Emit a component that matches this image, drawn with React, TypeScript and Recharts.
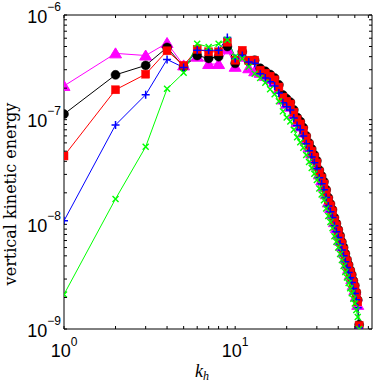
import React from 'react';
import { LineChart, Line, XAxis, YAxis } from 'recharts';

const W = 374;
const H = 382;
const PL = 64;
const PR = 372;
const PT = 15;
const PB = 329;
// axes occupy 1px each, so margins are reduced by one
const M = { top: PT - 1, right: W - PR - 1, bottom: H - PB - 1, left: PL - 1 };

const kh = [1, 2, 3, 4, 5, 6, 7, 8, 9, 10, 11, 12, 13, 14, 15, 16, 17, 18, 19, 20, 21, 22, 23, 24, 25, 26, 27, 28, 29, 30, 31, 32, 33, 34, 35, 36, 37, 38, 39, 40, 41, 42, 43, 44, 45, 46, 47, 48, 49, 50, 51, 52, 53];

const magenta = [2.1e-7, 4.3e-7, 4.1e-7, 5.4e-7, 3.3e-7, 4.0e-7, 3.4e-7, 3.4e-7, 4.7e-7, 3.2e-7, 4.0e-7, 3.1e-7, 2.9e-7,
  2.8e-7, 2.62e-7, 2.45e-7, 2.28e-7, 1.95e-7, 1.56e-7, 1.42e-7, 1.33e-7, 1.12e-7, 9.5e-8, 8.6e-8, 7.55e-8, 6.4e-8, 5.45e-8, 4.75e-8, 4.2e-8, 3.66e-8,
  3.0e-8, 2.63e-8, 2.3e-8, 1.94e-8, 1.62e-8, 1.43e-8, 1.25e-8, 1.05e-8, 9.2e-9, 8.1e-9, 7.0e-9, 6.2e-9, 5.4e-9, 4.75e-9, 4.2e-9, 3.75e-9, 3.3e-9, 3.0e-9, 2.63e-9, 2.35e-9, 2.05e-9, 1.7e-9, 1.0e-9];

const black = [1.13e-7, 2.68e-7, 3.3e-7, 4.9e-7, 3.2e-7, 4.1e-7, 3.85e-7, 4.0e-7, 5.0e-7, 3.45e-7, 4.45e-7, 3.6e-7, 3.7e-7,
  3.1e-7, 2.9e-7, 2.7e-7, 2.5e-7, 2.15e-7, 1.72e-7, 1.58e-7, 1.47e-7, 1.24e-7, 1.05e-7, 9.6e-8, 8.4e-8, 7.0e-8, 6.0e-8, 5.25e-8, 4.6e-8, 4.05e-8,
  3.3e-8, 2.9e-8, 2.55e-8, 2.14e-8, 1.8e-8, 1.57e-8, 1.38e-8, 1.16e-8, 1.02e-8, 8.9e-9, 7.8e-9, 6.8e-9, 6.0e-9, 5.25e-9, 4.6e-9, 4.1e-9, 3.65e-9, 3.3e-9, 2.9e-9, 2.6e-9, 2.25e-9, 1.9e-9, 1.1e-9];

const red = [4.5e-8, 1.93e-7, 2.72e-7, 4.55e-7, 3.3e-7, 4.7e-7, 4.45e-7, 4.45e-7, 5.5e-7, 3.7e-7, 4.6e-7, 3.7e-7, 3.7e-7,
  2.97e-7, 2.78e-7, 2.6e-7, 2.4e-7, 2.05e-7, 1.64e-7, 1.5e-7, 1.41e-7, 1.18e-7, 1.0e-7, 9.1e-8, 7.96e-8, 6.7e-8, 5.75e-8, 5.0e-8, 4.4e-8, 3.86e-8,
  3.16e-8, 2.77e-8, 2.43e-8, 2.04e-8, 1.71e-8, 1.5e-8, 1.32e-8, 1.1e-8, 9.7e-9, 8.5e-9, 7.4e-9, 6.5e-9, 5.7e-9, 5.0e-9, 4.4e-9, 3.94e-9, 3.5e-9, 3.16e-9, 2.77e-9, 2.48e-9, 2.17e-9, 1.82e-9, 1.08e-9];

const blue = [1.08e-8, 8.9e-8, 1.73e-7, 3.76e-7, 3.15e-7, 4.6e-7, 4.6e-7, 4.6e-7, 6.1e-7, 3.85e-7, 4.1e-7, 3.55e-7, 3.45e-7,
  2.75e-7, 2.5e-7, 2.3e-7, 2.1e-7, 1.8e-7, 1.45e-7, 1.33e-7, 1.24e-7, 1.04e-7, 8.8e-8, 8.0e-8, 7.0e-8, 5.9e-8, 5.05e-8, 4.4e-8, 3.87e-8, 3.4e-8,
  2.78e-8, 2.44e-8, 2.14e-8, 1.8e-8, 1.5e-8, 1.32e-8, 1.16e-8, 9.7e-9, 8.5e-9, 7.5e-9, 6.5e-9, 5.7e-9, 5.0e-9, 4.4e-9, 3.87e-9, 3.47e-9, 3.08e-9, 2.78e-9, 2.44e-9, 2.18e-9, 1.9e-9, 1.6e-9, 1.02e-9];

const green = [2.14e-9, 1.75e-8, 5.5e-8, 1.97e-7, 2.8e-7, 5.3e-7, 4.95e-7, 5.3e-7, 5.8e-7, 4.0e-7, 3.85e-7, 3.2e-7, 2.75e-7,
  2.5e-7, 2.25e-7, 1.95e-7, 1.75e-7, 1.5e-7, 1.2e-7, 1.05e-7, 9.6e-8, 8.0e-8, 6.8e-8, 6.1e-8, 5.4e-8, 4.6e-8, 3.95e-8, 3.45e-8, 3.05e-8, 2.65e-8,
  2.2e-8, 1.93e-8, 1.7e-8, 1.42e-8, 1.2e-8, 1.05e-8, 9.2e-9, 7.7e-9, 6.8e-9, 6.0e-9, 5.2e-9, 4.55e-9, 4.0e-9, 3.5e-9, 3.1e-9, 2.75e-9, 2.45e-9, 2.2e-9, 1.95e-9, 1.75e-9, 1.52e-9, 1.3e-9, 1.0e-9];

const xTicks = [1, 2, 3, 4, 5, 6, 7, 8, 9, 10, 20, 30, 40, 50, 60];
const yTicks = [1e-9, 2e-9, 3e-9, 4e-9, 5e-9, 6e-9, 7e-9, 8e-9, 9e-9,
  1e-8, 2e-8, 3e-8, 4e-8, 5e-8, 6e-8, 7e-8, 8e-8, 9e-8,
  1e-7, 2e-7, 3e-7, 4e-7, 5e-7, 6e-7, 7e-7, 8e-7, 9e-7, 1e-6];

const X_DOMAIN = [1, 63];
const Y_DOMAIN = [1e-9, 1e-6];

const rows = kh.map((k, i) => ({ k, m: magenta[i], b: black[i], r: red[i], u: blue[i], g: green[i] }));

const TICK_FONT = '"Liberation Sans", Arial, sans-serif';
const SERIF = '"DejaVu Serif", "Liberation Serif", serif';
const SERIF_IT = '"Liberation Serif", "Times New Roman", serif';

const expOf = (v: number) => Math.round(Math.log10(v));
const isMajor = (v: number) => Math.abs(Math.log10(v) - Math.round(Math.log10(v))) < 1e-6;
const expText = (e: number) => (e < 0 ? '\u2212' + Math.abs(e) : String(e));

const XTick = (p: any) => {
  const x = p.x;
  const v = p.payload.value;
  const major = isMajor(v);
  return (
    <g>
      <line x1={x} x2={x} y1={PB} y2={PB - 3} stroke="#000" strokeWidth={1} />
      <line x1={x} x2={x} y1={PT} y2={PT + 3} stroke="#000" strokeWidth={1} />
      {major && (
        <text x={x} y={PB + 27.5} textAnchor="middle" fontFamily={TICK_FONT} fontSize={18} fill="#000">
          10
          <tspan dy={-10.5} fontSize={12}>{expText(expOf(v))}</tspan>
        </text>
      )}
    </g>
  );
};

const YTick = (p: any) => {
  const y = p.y;
  const v = p.payload.value;
  const major = isMajor(v);
  return (
    <g>
      <line x1={PL} x2={PL + 3} y1={y} y2={y} stroke="#000" strokeWidth={1} />
      <line x1={PR} x2={PR - 3} y1={y} y2={y} stroke="#000" strokeWidth={1} />
      {major && (
        <text x={PL - 3} y={y + 7.5} textAnchor="end" fontFamily={TICK_FONT} fontSize={18} fill="#000">
          10
          <tspan dy={-12} fontSize={12}>{expText(expOf(v))}</tspan>
        </text>
      )}
    </g>
  );
};

const TriDot = (p: any) => {
  const { cx, cy, index } = p;
  if (cx == null || cy == null) return null;
  return (
    <path key={`t${index}`} d={`M${cx},${cy - 5.5}L${cx + 6},${cy + 4.5}L${cx - 6},${cy + 4.5}Z`} fill="#ff00ff" stroke="#ff00ff" strokeWidth={1} />
  );
};
const CircDot = (p: any) => {
  const { cx, cy, index } = p;
  if (cx == null || cy == null) return null;
  return <circle key={`c${index}`} cx={cx} cy={cy} r={4.5} fill="#000" stroke="#000" strokeWidth={0.5} />;
};
const SqDot = (p: any) => {
  const { cx, cy, index } = p;
  if (cx == null || cy == null) return null;
  return <rect key={`s${index}`} x={cx - 4} y={cy - 4} width={8} height={8} fill="#ff0000" stroke="#ff0000" strokeWidth={0.5} />;
};
const PlusDot = (p: any) => {
  const { cx, cy, index } = p;
  if (cx == null || cy == null) return null;
  return (
    <path key={`p${index}`} d={`M${cx - 4},${cy}L${cx + 4},${cy}M${cx},${cy - 4}L${cx},${cy + 4}`} stroke="#0000ff" strokeWidth={1.5} fill="none" />
  );
};
const CrossDot = (p: any) => {
  const { cx, cy, index } = p;
  if (cx == null || cy == null) return null;
  return (
    <path key={`x${index}`} d={`M${cx - 3},${cy - 3}L${cx + 3},${cy + 3}M${cx - 3},${cy + 3}L${cx + 3},${cy - 3}`} stroke="#00ff00" strokeWidth={1.4} fill="none" />
  );
};

export default function App() {
  return (
    <div style={{ position: 'absolute', left: 0, top: 0, width: W, height: H, background: '#fff' }}>
      <LineChart width={W} height={H} data={rows} margin={M}>
        <XAxis dataKey="k" type="number" scale="log" domain={X_DOMAIN} ticks={xTicks} interval={0}
          tick={XTick} tickLine={false} axisLine={{ stroke: '#000', strokeWidth: 1 }} height={1} allowDataOverflow />
        <XAxis xAxisId="top" dataKey="k" orientation="top" type="number" scale="log" domain={X_DOMAIN}
          tick={false} tickLine={false} axisLine={{ stroke: '#000', strokeWidth: 1 }} height={1} allowDataOverflow />
        <YAxis type="number" scale="log" domain={Y_DOMAIN} ticks={yTicks} interval={0}
          tick={YTick} tickLine={false} axisLine={{ stroke: '#000', strokeWidth: 1 }} width={1} allowDataOverflow />
        <YAxis yAxisId="right" orientation="right" type="number" scale="log" domain={Y_DOMAIN}
          tick={false} tickLine={false} axisLine={{ stroke: '#000', strokeWidth: 1 }} width={1} allowDataOverflow />
        <Line dataKey="m" stroke="#ff00ff" strokeWidth={1} dot={TriDot} isAnimationActive={false} />
        <Line dataKey="b" stroke="#000000" strokeWidth={1} dot={CircDot} isAnimationActive={false} />
        <Line dataKey="r" stroke="#ff0000" strokeWidth={1} dot={SqDot} isAnimationActive={false} />
        <Line dataKey="u" stroke="#0000ff" strokeWidth={1} dot={PlusDot} isAnimationActive={false} />
        <Line dataKey="g" stroke="#00ff00" strokeWidth={1} dot={CrossDot} isAnimationActive={false} />
      </LineChart>
      <svg width={W} height={H} style={{ position: 'absolute', left: 0, top: 0, pointerEvents: 'none' }}>
        <text transform="translate(16,194) rotate(-90)" textAnchor="middle" fontFamily={SERIF} fontSize={16} fill="#000">
          vertical kinetic energy
        </text>
        <text x={195} y={377} fontFamily={SERIF_IT} fontStyle="italic" fontSize={18} fill="#000">
          k
          <tspan fontSize={12} dy={3}>h</tspan>
        </text>
      </svg>
    </div>
  );
}
